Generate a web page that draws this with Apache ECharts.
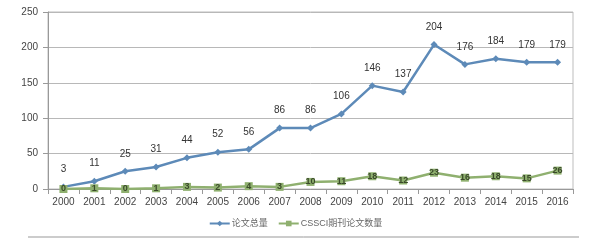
<!DOCTYPE html>
<html>
<head>
<meta charset="utf-8">
<script src="https://cdn.jsdelivr.net/npm/echarts@6/dist/echarts.min.js"></script>
<style>
  html, body { margin: 0; padding: 0; background: #fff; }
  #chart { width: 591px; height: 243px; }
</style>
</head>
<body>
<div id="chart"></div>
<script>
const years = ['2000', '2001', '2002', '2003', '2004', '2005', '2006', '2007', '2008',
  '2009', '2010', '2011', '2012', '2013', '2014', '2015', '2016']
const totalPapers = [3, 11, 25, 31, 44, 52, 56, 86, 86, 106, 146, 137, 204, 176, 184, 179, 179]
const cssciPapers = [0, 1, 0, 1, 3, 2, 4, 3, 10, 11, 18, 12, 23, 16, 18, 15, 26]
const yTicks = [0, 50, 100, 150, 200, 250]

const chart = echarts.init(document.getElementById('chart'))
chart.setOption({
  animation: false,
  textStyle: { fontFamily: 'Liberation Sans, Noto Sans CJK SC, sans-serif' },
  grid: {
    left: 48,
    right: 18,
    top: 12,
    bottom: 54,
    show: true,
    borderColor: '#bdbdbd',
    borderWidth: 1
  },
  legend: {
    top: 214,
    left: 'center',
    itemWidth: 20,
    itemHeight: 7,
    itemGap: 10,
    textStyle: { fontSize: 9, color: '#666', padding: [0, 0, 0, -3] },
    data: ['论文总量', 'CSSCI期刊论文数量']
  },
  // thin rule under the figure
  graphic: [{
    type: 'line',
    shape: { x1: 28, y1: 237, x2: 579, y2: 237 },
    style: { stroke: '#999', lineWidth: 1 }
  }],
  xAxis: {
    type: 'category',
    data: years,
    boundaryGap: true,
    axisLine: { lineStyle: { color: '#999' } },
    axisTick: { show: true, lineStyle: { color: '#999' } },
    axisLabel: { color: '#444', fontSize: 10, margin: 8 }
  },
  yAxis: {
    type: 'value',
    min: yTicks[0],
    max: yTicks[yTicks.length - 1],
    interval: 50,
    axisLine: { show: true, lineStyle: { color: '#999' } },
    axisTick: { show: true, lineStyle: { color: '#999' } },
    axisLabel: { color: '#444', fontSize: 10, margin: 10 },
    splitLine: { lineStyle: { color: '#b8b8b8', width: 1 } }
  },
  series: [
    {
      name: '论文总量',
      type: 'line',
      data: totalPapers,
      symbol: 'diamond',
      symbolSize: 7,
      lineStyle: { color: '#5d8ab8', width: 2.5 },
      itemStyle: { color: '#5d8ab8' },
      label: {
        show: true,
        position: 'top',
        distance: 9,
        color: '#333',
        fontSize: 10
      }
    },
    {
      name: 'CSSCI期刊论文数量',
      type: 'line',
      data: cssciPapers,
      symbol: 'rect',
      symbolSize: 8,
      lineStyle: { color: '#8fb06f', width: 2.5 },
      itemStyle: { color: '#8fb06f' },
      label: {
        show: true,
        position: 'inside',
        color: '#3a4a2a',
        fontSize: 9,
        fontWeight: 'bold'
      }
    }
  ]
})
</script>
</body>
</html>
